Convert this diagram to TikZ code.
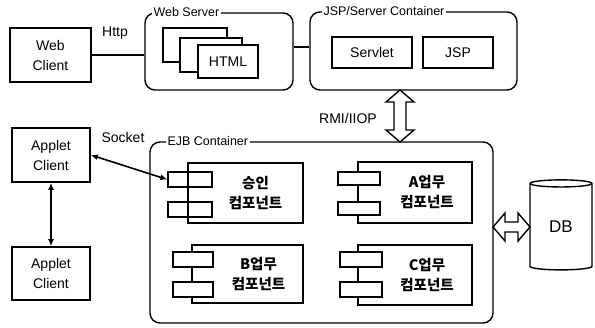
\documentclass[tikz,border=0pt]{standalone}
\usepackage{fontspec}
\setmainfont{Liberation Sans}
\newfontfamily\kr{Noto Sans CJK KR}
\usetikzlibrary{shapes.geometric,arrows.meta}
\tikzstyle{box}=[draw=black, line width=1.6pt, align=center, inner sep=0pt, font=\fontsize{14}{20}\selectfont]
\tikzstyle{page}=[draw=black, line width=1.4pt, fill=white, inner sep=0pt, font=\fontsize{14}{16}\selectfont]
\tikzstyle{container}=[draw=black, line width=1.4pt, rounded corners=10pt, inner sep=0pt]
\tikzstyle{title}=[fill=white, anchor=west, inner sep=2pt, font=\fontsize{12.5}{14}\selectfont]
\tikzstyle{tag}=[inner sep=0pt, font=\fontsize{14}{16}\selectfont]
\tikzstyle{comp}=[draw=black, line width=1.3pt, inner sep=0pt]
\tikzstyle{plug}=[draw=black, line width=1.3pt, fill=white, inner sep=0pt, minimum width=42, minimum height=15]
\tikzstyle{comptext}=[align=center, inner sep=0pt, font=\kr\bfseries\fontsize{14.5}{20}\selectfont]
\tikzstyle{link}=[line width=1.6pt, {Latex[length=7pt,width=6pt]}-{Latex[length=7pt,width=6pt]}]
\tikzstyle{blockarrow}=[draw=black, line width=1.4pt, fill=white, line join=miter]

\begin{document}
\begin{tikzpicture}[x=1pt, y=-1pt]
			\useasboundingbox (0,0) rectangle (595,327);
			\node[box, minimum width=81, minimum height=54] (wc) at (50.5,55) {Web\\Client};
			\node[box, minimum width=78, minimum height=54] (ac1) at (51,155) {Applet\\Client};
			\node[box, minimum width=78, minimum height=53] (ac2) at (51,273.5) {Applet\\Client};
			\node[tag] (http) at (115,33) {Http};
			\node[tag] (socket) at (123,137) {Socket};
			\node[tag] (rmi) at (348,118) {RMI/IIOP};

			\node[container, minimum width=148, minimum height=77] (ws) at (219,51.5) {};
			\node[title] (wst) at ([xshift=7pt]ws.north west) {Web Server};
			\node[page, minimum width=64, minimum height=34] (pg1) at (195,45) {};
			\node[page, minimum width=62, minimum height=34] (pg2) at (211,55) {};
			\node[page, minimum width=60, minimum height=33] (pg3) at (228,61.5) {HTML};

			\node[container, minimum width=207, minimum height=78] (jspc) at (413.5,51) {};
			\node[title] (jspt) at ([xshift=12pt]jspc.north west) {JSP/Server Container};
			\node[box, line width=1.4pt, minimum width=80, minimum height=31] (servlet) at (372,52.5) {Servlet};
			\node[box, line width=1.4pt, minimum width=70, minimum height=31] (jsp) at (458,52.5) {JSP};

			\node[container, minimum width=343, minimum height=181] (ejb) at (321.5,232.5) {};
			\node[title] (ejbt) at ([xshift=16pt]ejb.north west) {EJB Container};

			\node[comp, minimum width=115, minimum height=60] (ok) at (245.5,193) {};
			\node[plug, fill=none, minimum width=44] (ok1) at (190,179.5) {};
			\node[plug, fill=none, minimum width=44] (ok2) at (190,209.5) {};
			\node[comptext] (okt) at ([xshift=10pt]ok.center) {승인\\컴포넌트};

			\node[comp, minimum width=114, minimum height=61] (ca) at (415,192.5) {};
			\node[plug, minimum height=13] (ca1) at (359,178.5) {};
			\node[plug, minimum height=13] (ca2) at (359,208.5) {};
			\node[comptext] (cat) at ([xshift=12pt]ca.center) {A업무\\컴포넌트};

			\node[comp, minimum width=111, minimum height=58] (cb) at (247.5,274) {};
			\node[plug, minimum width=40] (cb1) at (193,259.5) {};
			\node[plug, minimum width=40] (cb2) at (193,289.5) {};
			\node[comptext] (cbt) at ([xshift=11pt]cb.center) {B업무\\컴포넌트};

			\node[comp, minimum width=114, minimum height=60] (cc) at (415,275) {};
			\node[plug] (cc1) at (361,259.5) {};
			\node[plug] (cc2) at (361,289.5) {};
			\node[comptext] (cct) at ([xshift=12pt]cc.center) {C업무\\컴포넌트};

			\node[cylinder, draw=black, line width=1.4pt, shape border rotate=90, aspect=0.3, minimum width=62, minimum height=90, inner sep=0pt, font=\fontsize{17}{18}\selectfont] (db) at (561,227) {DB};

			\coordinate (rmitop) at (400,90);
			\coordinate (dbl) at (493,227);

			\draw[line width=1.6pt] (wc.east) -- (wc.east -| ws.west);
			\draw[line width=1.6pt] (jspc.west |- 0,47) -- (ws.east |- 0,47);
			\draw[link] (ac1.east) -- (ok1.west);
			\draw[link] (ac1.south) -- (ac2.north);
			\draw[blockarrow] (rmitop) -- ++(14,12) -- ++(-8,0) -- ++(0,28) -- ++(8,0) -- ++(-14,12) -- ++(-14,-12) -- ++(8,0) -- ++(0,-28) -- ++(-8,0) -- cycle;
			\draw[blockarrow] (dbl) -- ++(12,-14) -- ++(0,9) -- ++(13,0) -- ++(0,-9) -- ++(12,14) -- ++(-12,14) -- ++(0,-9) -- ++(-13,0) -- ++(0,9) -- cycle;
		\end{tikzpicture}
\end{document}
